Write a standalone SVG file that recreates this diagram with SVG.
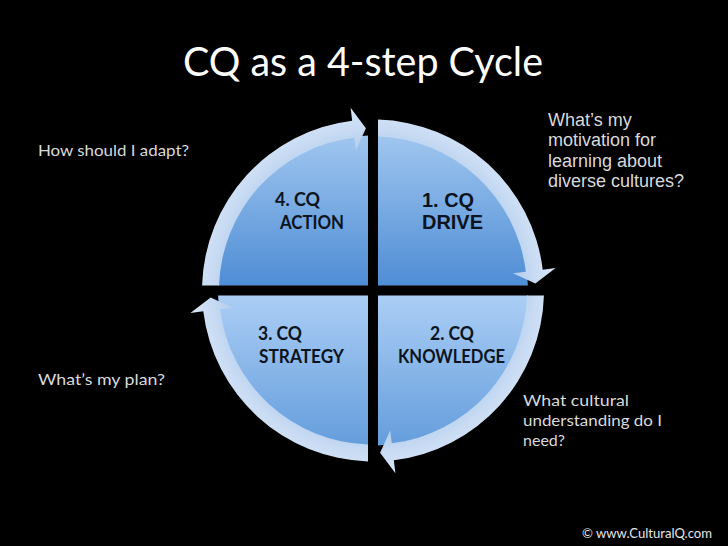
<svg xmlns="http://www.w3.org/2000/svg" xmlns:xlink="http://www.w3.org/1999/xlink" width="728" height="546" viewBox="0 0 728 546">
  <style>
    .title { font-family: Lato, "Open Sans", sans-serif; font-size: 40px; fill: #ffffff; }
    .lbl { font-family: Lato, "Open Sans", sans-serif; font-weight: bold; font-size: 18px; fill: #0b1420; }
    .lbla { font-family: "Liberation Sans", Arial, sans-serif; font-weight: bold; font-size: 20px; fill: #0b1420; }
    .note { font-family: Lato, "Open Sans", sans-serif; font-size: 16px; fill: #d9d9d9; }
    .notea { font-family: "Liberation Sans", Arial, sans-serif; font-size: 18px; fill: #d9d9d9; }
    .copy { font-family: Lato, "Open Sans", sans-serif; font-size: 12.5px; fill: #e6e6e6; }
  </style>
  <defs>
    <linearGradient id="gTop" x1="0" y1="0" x2="0" y2="1">
      <stop offset="0" stop-color="#9fc6ef"/>
      <stop offset="1" stop-color="#4f8dd5"/>
    </linearGradient>
    <linearGradient id="gBot" x1="0" y1="0" x2="0" y2="1">
      <stop offset="0" stop-color="#abcef5"/>
      <stop offset="1" stop-color="#649ddc"/>
    </linearGradient>
    <radialGradient id="gRing" gradientUnits="userSpaceOnUse" cx="373" cy="290.5" r="184">
      <stop offset="0.8" stop-color="#b8d0ef"/>
      <stop offset="0.88" stop-color="#c8dbf3"/>
      <stop offset="1" stop-color="#d9e7f8"/>
    </radialGradient>
    <path id="arc" d="M202.07,285.5 A171,171 0 0 1 352.16,120.77 L350.58,107.87 L365.91,128.15 L355.82,150.55 L354.23,137.65 A154,154 0 0 0 219.08,285.5 Z" fill="url(#gRing)"/>
  </defs>
  <rect x="0" y="0" width="728" height="546" fill="#000000"/>

  <text class="title" x="183" y="76" textLength="360" lengthAdjust="spacingAndGlyphs">CQ as a 4-step Cycle</text>

  <g id="node-drive">
    <path d="M378,285.5 L378,135.58 A155,155 0 0 1 527.92,285.5 Z" fill="url(#gTop)"/>
    <text class="lbla" x="422" y="207" textLength="52" lengthAdjust="spacingAndGlyphs">1. CQ</text>
    <text class="lbla" x="422" y="229" textLength="61" lengthAdjust="spacingAndGlyphs">DRIVE</text>
  </g>
  <g id="node-knowledge">
    <path d="M378,295.5 L527.92,295.5 A155,155 0 0 1 378,445.42 Z" fill="url(#gBot)"/>
    <text class="lbl" x="430" y="340" textLength="44" lengthAdjust="spacingAndGlyphs">2. CQ</text>
    <text class="lbl" x="398" y="363" textLength="107" lengthAdjust="spacingAndGlyphs">KNOWLEDGE</text>
  </g>
  <g id="node-strategy">
    <path d="M368,295.5 L368,445.42 A155,155 0 0 1 218.08,295.5 Z" fill="url(#gBot)"/>
    <text class="lbl" x="258" y="340" textLength="44" lengthAdjust="spacingAndGlyphs">3. CQ</text>
    <text class="lbl" x="259" y="363" textLength="85" lengthAdjust="spacingAndGlyphs">STRATEGY</text>
  </g>
  <g id="node-action">
    <path d="M368,285.5 L218.08,285.5 A155,155 0 0 1 368,135.58 Z" fill="url(#gTop)"/>
    <text class="lbl" x="275" y="206" textLength="45" lengthAdjust="spacingAndGlyphs">4. CQ</text>
    <text class="lbl" x="280" y="229" textLength="64" lengthAdjust="spacingAndGlyphs">ACTION</text>
  </g>

  <g id="connectors">
    <use xlink:href="#arc"/>
    <use xlink:href="#arc" transform="rotate(90 373 290.5)"/>
    <use xlink:href="#arc" transform="rotate(180 373 290.5)"/>
    <use xlink:href="#arc" transform="rotate(270 373 290.5)"/>
  </g>

  <g id="notes">
    <text class="note" x="38" y="156" textLength="151" lengthAdjust="spacingAndGlyphs">How should I adapt?</text>
    <text class="note" x="38" y="385" textLength="127" lengthAdjust="spacingAndGlyphs">What’s my plan?</text>
    <text class="notea" x="548" y="126">What’s my</text>
    <text class="notea" x="548" y="146">motivation for</text>
    <text class="notea" x="548" y="167">learning about</text>
    <text class="notea" x="548" y="187">diverse cultures?</text>
    <text class="note" x="523" y="406" textLength="106" lengthAdjust="spacingAndGlyphs">What cultural</text>
    <text class="note" x="523" y="426" textLength="139" lengthAdjust="spacingAndGlyphs">understanding do I</text>
    <text class="note" x="523" y="446" textLength="42" lengthAdjust="spacingAndGlyphs">need?</text>
    <text class="copy" x="582" y="538" textLength="130" lengthAdjust="spacingAndGlyphs">© www.CulturalQ.com</text>
  </g>
</svg>
